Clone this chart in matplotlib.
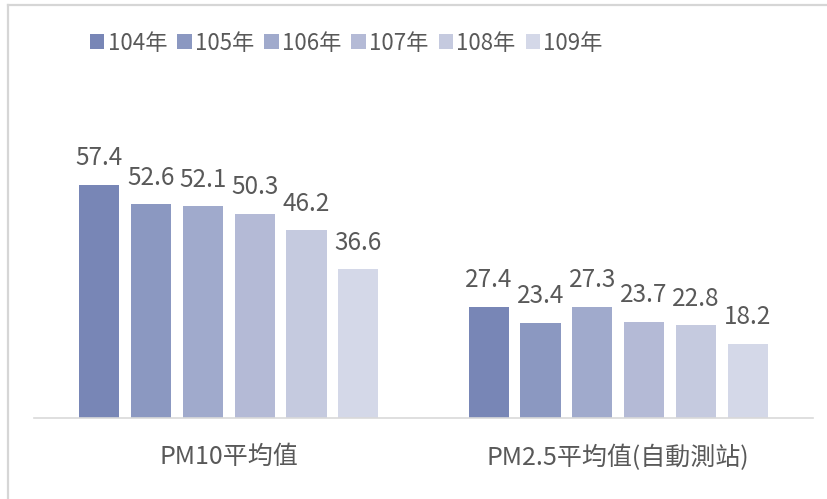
import matplotlib
matplotlib.use("Agg")
import matplotlib.pyplot as plt
from matplotlib.patches import Patch
from matplotlib.lines import Line2D
import numpy as np

plt.rcParams['font.family'] = ['Noto Sans CJK TC', 'DejaVu Sans']

categories = ["PM10平均值", "PM2.5平均值(自動測站)"]
years = ["104年", "105年", "106年", "107年", "108年", "109年"]
values = {
    "104年": [57.4, 27.4],
    "105年": [52.6, 23.4],
    "106年": [52.1, 27.3],
    "107年": [50.3, 23.7],
    "108年": [46.2, 22.8],
    "109年": [36.6, 18.2],
}
colors = ["#7886b6", "#8b98c1", "#a0aacc", "#b4bad6", "#c5cadf", "#d4d8e8"]
text_color = "#595959"

W, H = 828, 499
fig = plt.figure(figsize=(W / 100, H / 100), dpi=100)
left_px, right_px, base_px = 34, 813, 418
ymax = 70
scale = 4.06
top_px = base_px - ymax * scale
ax = fig.add_axes([left_px / W, (H - base_px) / H, (right_px - left_px) / W, (base_px - top_px) / H])

x = np.arange(len(categories))
slot = 0.133
bw = 0.103
for i, yr in enumerate(years):
    off = (i - (len(years) - 1) / 2) * slot
    bars = ax.bar(x + off, values[yr], width=bw, color=colors[i], zorder=2)
    for b, v in zip(bars, values[yr]):
        ax.annotate(f"{v}", (b.get_x() + b.get_width() / 2, b.get_height()),
                    xytext=(0, 10), textcoords="offset points", ha="center", va="bottom",
                    fontsize=17.5, color=text_color)

ax.set_xlim(-0.5, len(categories) - 0.5)
ax.set_ylim(0, ymax)
ax.set_yticks([])
ax.set_xticks(x)
ax.set_xticklabels(categories, fontsize=18, color=text_color)
ax.tick_params(axis='x', length=0, pad=19)
for s in ["top", "right", "left"]:
    ax.spines[s].set_visible(False)
ax.spines["bottom"].set_color("#d9d9d9")
ax.spines["bottom"].set_linewidth(1.2)

handles = [Patch(facecolor=c, edgecolor='none') for c in colors]
leg = fig.legend(handles, years, loc="center left", bbox_to_anchor=(90 / W, 1 - 43 / H),
                 ncol=6, frameon=False, fontsize=16, labelcolor=text_color,
                 handlelength=0.65, handleheight=0.65, handletextpad=0.15,
                 columnspacing=0.45, borderpad=0, borderaxespad=0)

# outer chart border (left and top)
fig.add_artist(Line2D([8 / W, 8 / W], [0, 1 - 5 / H], color="#d6d6d6", lw=1.6, transform=fig.transFigure))
fig.add_artist(Line2D([8 / W, 1], [1 - 5 / H, 1 - 5 / H], color="#d6d6d6", lw=1.6, transform=fig.transFigure))

fig.savefig("out.png", dpi=100)
